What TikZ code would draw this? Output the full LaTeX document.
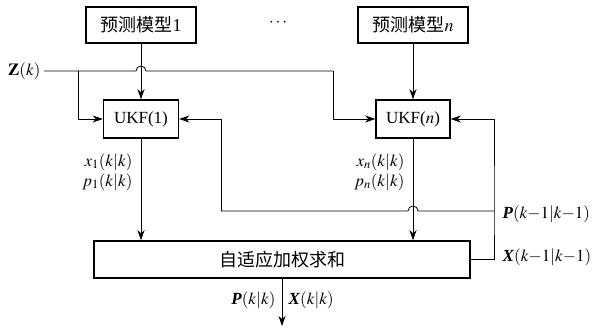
\documentclass[tikz,border=0pt]{standalone}
\usepackage{amsmath, amssymb}
\usepackage{mathptmx}
\usepackage{fontspec}
\setmainfont{Liberation Serif}
\newfontfamily\cjk{Noto Sans CJK SC}
\usetikzlibrary{arrows.meta}
\newcommand{\bvec}[1]{\textbf{\textit{#1}}}

\begin{document}
\begin{tikzpicture}
        [x=1pt,y=-1pt,font=\fontsize{17}{20}\selectfont,
         box/.style={draw,line width=1.5pt,inner sep=0,minimum height=36pt},
         cn/.style={font=\fontsize{18}{20}\selectfont\cjk},
         wire/.style={line width=0.8pt},
         arr/.style={line width=0.8pt,-{Stealth[length=10pt,width=7pt,inset=3pt]}}]

        \useasboundingbox (0,0) rectangle (598,329);

        \node[box,minimum width=110pt,font=\fontsize{18}{20}\selectfont] (m1) at (141,25) {{\cjk 预测模型}1};
        \node[box,minimum width=110pt,font=\fontsize{18}{20}\selectfont] (mn) at (413,25) {{\cjk 预测模型}$n$};
        \node (dots) at (279,23) {$\cdots$};
        \node[box,minimum width=75pt,minimum height=38pt] (u1) at (141,119) {UKF(1)};
        \node[box,minimum width=74pt,minimum height=38pt] (un) at (413,119) {UKF($n$)};
        \node[box,minimum width=376pt,minimum height=37pt,cn] (s) at (282,259.5) {自适应加权求和};

        \node[anchor=east] (z) at (44,71) {$\mathbf{Z}(k)$};
        \node[anchor=east,align=right] (l1) at (136,172) {$x_1(k|k)$\\$p_1(k|k)$};
        \node[anchor=east,align=right] (ln) at (408,172) {$x_n(k|k)$\\$p_n(k|k)$};
        \node[anchor=west] (lp) at (499,214) {\bvec{P}$(k{-}1|k{-}1)$};
        \node[anchor=west] (lx) at (499,257) {\bvec{X}$(k{-}1|k{-}1)$};
        \node[anchor=east] (lpo) at (279,300) {\bvec{P}$(k|k)$};
        \node[anchor=west] (lxo) at (285,300) {\bvec{X}$(k|k)$};

        \coordinate (zb) at (78,71);
        \coordinate (zc) at (333,71);
        \coordinate (j1) at (141,71);
        \coordinate (fb) at (494,211);
        \coordinate (j2) at (413,211);
        \coordinate (fl) at (221,211);
        \coordinate (out) at (282,326);

        \draw[wire] (z.east) -- ([xshift=-5pt]j1) arc[start angle=180,end angle=360,radius=5] -- (zc);
        \draw[arr] (zc) |- (un);
        \draw[arr] (zb) |- (u1);
        \draw[arr] (m1) -- (u1);
        \draw[arr] (mn) -- (un);
        \draw[arr] (u1) -- (u1 |- s.north);
        \draw[arr] (un) -- (un |- s.north);
        \draw[arr] (s.east) -| (fb) |- (un.east);
        \draw[wire] (fb) -- ([xshift=5pt]j2) arc[start angle=0,end angle=-180,radius=5] -- (fl);
        \draw[arr] (fl) |- (u1.east);
        \draw[arr] (s) -- (out);

      \end{tikzpicture}
\end{document}
